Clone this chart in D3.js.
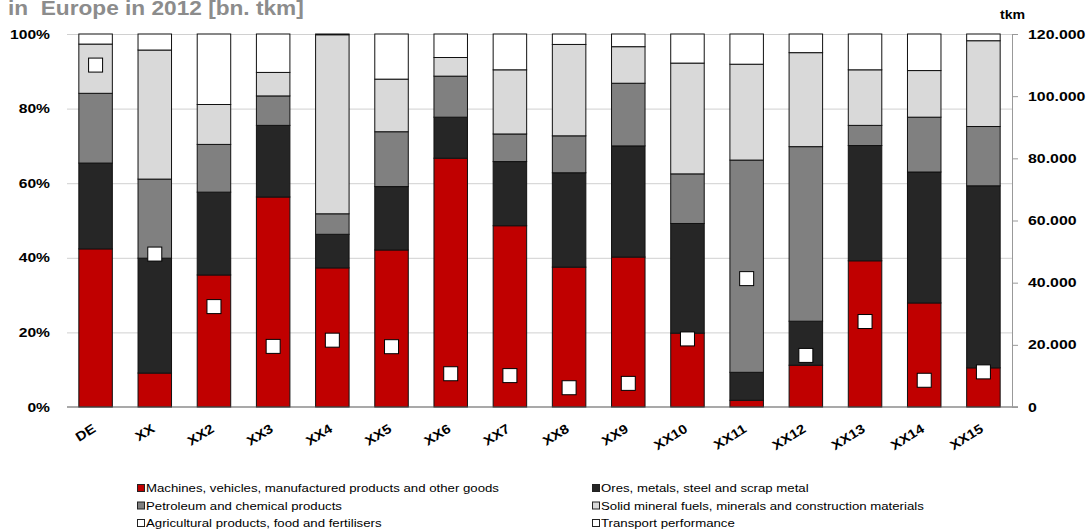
<!DOCTYPE html>
<html>
<head>
<meta charset="utf-8">
<script src="https://cdn.jsdelivr.net/npm/d3@7"></script>
<style>
  body { margin: 0; background: #fff; }
  svg { display: block; font-family: "Liberation Sans", Arial, Helvetica, sans-serif; }
</style>
</head>
<body>
<svg id="chart" width="1092" height="532"></svg>
<script>
// Country codes along the x axis
const categories = ["DE", "XX", "XX2", "XX3", "XX4", "XX5", "XX6", "XX7", "XX8", "XX9", "XX10", "XX11", "XX12", "XX13", "XX14", "XX15"];

// Commodity shares of transport performance, in percent
const machines     = [42.4,  9.1, 35.4, 56.3, 37.3, 42.1, 66.7, 48.6, 37.5, 40.2, 19.8,  1.8, 11.2, 39.2, 27.9, 10.5];
const ores         = [23.0, 30.8, 22.2, 19.2,  9.0, 17.0, 11.0, 17.2, 25.3, 29.8, 29.4,  7.5, 11.8, 30.9, 35.1, 48.8];
const petroleum    = [18.7, 21.2, 12.8,  7.9,  5.5, 14.7, 11.0,  7.4,  9.9, 16.8, 13.3, 56.9, 46.8,  5.4, 14.7, 15.9];
const solidFuels   = [13.2, 34.6, 10.7,  6.3, 48.0, 14.1,  5.0, 17.2, 24.5,  9.8, 29.7, 25.7, 25.2, 14.9, 12.5, 23.0];
const agricultural = [ 2.7,  4.3, 18.9, 10.3,  0.2, 12.1,  6.3,  9.6,  2.8,  3.4,  7.8,  8.1,  5.0,  9.6,  9.8,  1.8];

// Total transport performance (right axis, tkm)
const transport = [110000, 49200, 32300, 19500, 21500, 19400, 10700, 10100, 6200, 7600, 21900, 41300, 16600, 27500, 8600, 11300];

// Axis ticks
const shareTicks = [0, 0.2, 0.4, 0.6, 0.8, 1.0];
const tkmTicks = [0, 20000, 40000, 60000, 80000, 100000, 120000];

const seriesKeys = ["machines", "ores", "petroleum", "solidFuels", "agricultural"];
const seriesLabels = [
  "Machines, vehicles, manufactured products and other goods",
  "Ores, metals, steel and scrap metal",
  "Petroleum and chemical products",
  "Solid mineral fuels, minerals and construction materials",
  "Agricultural products, food and fertilisers"
];
const seriesColors = ["#c00000", "#262626", "#808080", "#d9d9d9", "#ffffff"];
const markerLabel = "Transport performance";

const rows = categories.map((c, i) => ({
  country: c,
  machines: machines[i],
  ores: ores[i],
  petroleum: petroleum[i],
  solidFuels: solidFuels[i],
  agricultural: agricultural[i],
  transport: transport[i]
}));

const svg = d3.select("#chart");
const plotLeft = 67, plotRight = 1012, plotTop = 34, plotBottom = 407;
const FONT = "\"Liberation Sans\", Arial, sans-serif";

// Widen text glyphs horizontally by a factor (the typeface is set wide)
function widen(sel, factor) {
  sel.each(function () {
    const len = this.getComputedTextLength();
    d3.select(this).attr("textLength", len * factor).attr("lengthAdjust", "spacingAndGlyphs");
  });
}

const x = d3.scaleBand().domain(categories).range([plotLeft, plotRight])
  .paddingInner(0.434).paddingOuter(0.2);
const yShare = d3.scaleLinear().domain([0, 1]).range([plotBottom, plotTop]);
const yTkm = d3.scaleLinear().domain([0, 120000]).range([plotBottom, plotTop]);
const color = d3.scaleOrdinal().domain(seriesKeys).range(seriesColors);

const deLocale = d3.formatLocale({ decimal: ",", thousands: ".", grouping: [3], currency: ["", " €"] });
const fmtTkm = deLocale.format(",.0f");

// Title (partly clipped at the top edge)
svg.append("text")
  .attr("x", 8).attr("y", 14.5)
  .attr("font-size", 20.5).attr("font-weight", "bold").attr("fill", "#8c8c8c")
  .attr("xml:space", "preserve")
  .text("in  Europe in 2012 [bn. tkm]")
  .call(widen, 1.105);

// Horizontal gridlines
svg.append("g")
  .attr("transform", `translate(${plotLeft},0)`)
  .call(d3.axisLeft(yShare).tickValues(shareTicks.slice(1)).tickSize(-(plotRight - plotLeft)).tickFormat(""))
  .call(g => g.select(".domain").remove())
  .call(g => g.selectAll("line").attr("stroke", "#d0d0d0").attr("stroke-width", 1));

// Left percentage axis
svg.append("g")
  .attr("transform", `translate(${plotLeft},0)`)
  .call(d3.axisLeft(yShare).tickValues(shareTicks).tickSize(0).tickPadding(17).tickFormat(d3.format(".0%")))
  .call(g => g.select(".domain").remove())
  .call(g => g.selectAll("text").attr("font-size", 12.5).attr("font-weight", "bold").attr("fill", "#000")
    .attr("font-family", FONT).call(widen, 1.25));

// Stacked bars
const stacked = d3.stack().keys(seriesKeys).offset(d3.stackOffsetExpand)(rows);
svg.append("g").selectAll("g")
  .data(stacked)
  .join("g")
  .attr("fill", d => color(d.key))
  .selectAll("rect")
  .data(d => d)
  .join("rect")
  .attr("x", d => x(d.data.country))
  .attr("width", x.bandwidth())
  .attr("y", d => yShare(d[1]))
  .attr("height", d => yShare(d[0]) - yShare(d[1]))
  .attr("stroke", "#111")
  .attr("stroke-width", 1);

// Bottom axis line
svg.append("line")
  .attr("x1", plotLeft).attr("x2", plotRight + 6)
  .attr("y1", plotBottom).attr("y2", plotBottom)
  .attr("stroke", "#555").attr("stroke-width", 1.2);

// Right tkm axis
svg.append("g")
  .attr("transform", `translate(${plotRight},0)`)
  .call(d3.axisRight(yTkm).tickValues(tkmTicks).tickSize(6).tickPadding(10).tickFormat(fmtTkm))
  .call(g => g.select(".domain").attr("stroke", "#999"))
  .call(g => g.selectAll("line").attr("stroke", "#999"))
  .call(g => g.selectAll("text").attr("font-size", 12.5).attr("font-weight", "bold").attr("fill", "#000")
    .attr("font-family", FONT).call(widen, 1.27));

svg.append("text")
  .attr("x", 1000).attr("y", 19)
  .attr("font-size", 12.5).attr("font-weight", "bold").attr("fill", "#000")
  .text("tkm")
  .call(widen, 1.13);

// Transport performance markers
svg.append("g").selectAll("rect")
  .data(rows)
  .join("rect")
  .attr("x", d => x(d.country) + x.bandwidth() / 2 - 7)
  .attr("y", d => yTkm(d.transport) - 7)
  .attr("width", 14).attr("height", 14)
  .attr("fill", "#fff").attr("stroke", "#000").attr("stroke-width", 1);

// Rotated category labels
svg.append("g").selectAll("text")
  .data(categories)
  .join("text")
  .attr("transform", d => `translate(${x(d) + x.bandwidth() / 2 + 1},431) rotate(-32)`)
  .attr("text-anchor", "end")
  .attr("font-size", 13).attr("font-weight", "bold").attr("fill", "#000")
  .text(d => d)
  .call(widen, 1.15);

// Legend
const legendItems = [
  { label: seriesLabels[0], fill: seriesColors[0], col: 0, row: 0 },
  { label: seriesLabels[1], fill: seriesColors[1], col: 1, row: 0 },
  { label: seriesLabels[2], fill: seriesColors[2], col: 0, row: 1 },
  { label: seriesLabels[3], fill: seriesColors[3], col: 1, row: 1 },
  { label: seriesLabels[4], fill: seriesColors[4], col: 0, row: 2 },
  { label: markerLabel, fill: "#ffffff", col: 1, row: 2 }
];
const legendX = [137, 592], legendY = [488, 505.5, 523];
const lg = svg.append("g").selectAll("g")
  .data(legendItems)
  .join("g")
  .attr("transform", d => `translate(${legendX[d.col]},${legendY[d.row]})`);
lg.append("rect")
  .attr("x", 0.5).attr("y", -3.5).attr("width", 7).attr("height", 7)
  .attr("fill", d => d.fill).attr("stroke", "#222").attr("stroke-width", 1);
lg.append("text")
  .attr("x", 9).attr("y", 4)
  .attr("font-size", 11).attr("fill", "#000")
  .text(d => d.label)
  .call(widen, 1.2);
</script>
</body>
</html>
